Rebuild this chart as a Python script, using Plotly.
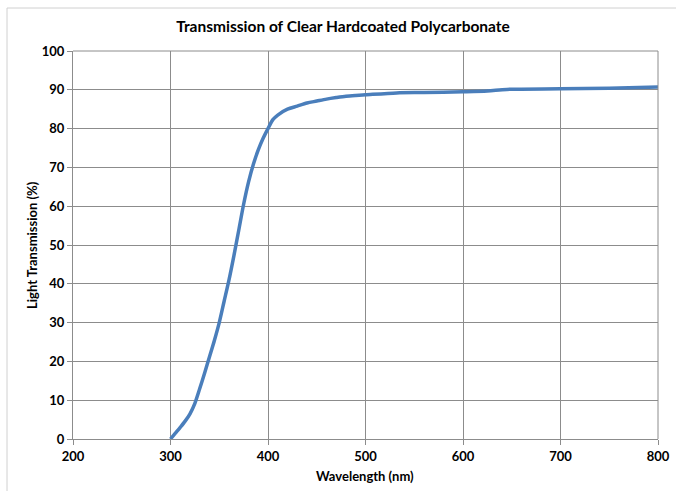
import plotly.graph_objects as go

wavelength = [300, 305, 310, 315, 320, 325, 330, 335, 340, 345, 350, 355, 360, 365, 370, 375, 380, 385, 390, 395, 400, 405, 410, 420, 430, 440, 450, 460, 470, 480, 490, 500, 532, 560, 600, 625, 645, 700, 750, 800]
transmission = [0, 1.5, 3.0, 4.6, 6.5, 9.2, 13.0, 17.0, 21.2, 25.4, 30.0, 35.5, 41.0, 47.2, 53.8, 60.5, 66.2, 70.8, 74.5, 77.5, 80.0, 82.3, 83.5, 85.0, 85.8, 86.6, 87.1, 87.6, 88.0, 88.35, 88.55, 88.7, 89.2, 89.3, 89.5, 89.7, 90.1, 90.25, 90.4, 90.7]

x_ticks = [200, 300, 400, 500, 600, 700, 800]
y_ticks = [0, 10, 20, 30, 40, 50, 60, 70, 80, 90, 100]

FONT = "Lato"
GRID = "#8c8c8c"

fig = go.Figure()
fig.add_trace(go.Scatter(
    x=wavelength, y=transmission, mode="lines",
    line=dict(color="#4a7ebb", width=3.5, shape="spline", smoothing=0.8),
    hoverinfo="skip", showlegend=False,
))

W, H = 676, 491
L, R, T, B = 73, 18, 51, 52
pw, ph = W - L - R, H - T - B

fig.update_layout(
    width=W, height=H,
    margin=dict(l=L, r=R, t=T, b=B, pad=0),
    paper_bgcolor="white", plot_bgcolor="white",
    font=dict(family=FONT, size=13, color="black"),
    title=dict(text="<b>Transmission of Clear Hardcoated Polycarbonate</b>",
               x=343 / W, xref="container", xanchor="center",
               y=1 - 27 / H, yref="container", yanchor="middle",
               font=dict(family=FONT, size=15.5, color="black")),
    xaxis=dict(range=[200, 800], tickvals=x_ticks, ticktext=[f"<b>{v}</b>" for v in x_ticks],
               showgrid=True, gridcolor=GRID, gridwidth=1, automargin=False,
               showline=True, linecolor=GRID, linewidth=1, mirror=False,
               ticks="outside", ticklen=5, tickcolor=GRID, zeroline=False,
               tickfont=dict(family=FONT, size=13, color="black")),
    yaxis=dict(range=[0, 100], tickvals=y_ticks, ticktext=[f"<b>{v}</b>" for v in y_ticks],
               showgrid=True, gridcolor=GRID, gridwidth=1, automargin=False,
               showline=True, linecolor=GRID, linewidth=1,
               ticks="outside", ticklen=5, tickcolor=GRID, zeroline=False,
               tickfont=dict(family=FONT, size=13, color="black")),
    annotations=[
        dict(text="<b>Wavelength (nm)</b>", xref="paper", yref="paper",
             x=(365 - L) / pw, y=(H - B - 476) / ph, xanchor="center", yanchor="middle",
             showarrow=False, font=dict(family=FONT, size=13, color="black")),
        dict(text="<b>Light Transmission (%)</b>", xref="paper", yref="paper",
             x=(32 - L) / pw, y=(H - B - 245) / ph, xanchor="center", yanchor="middle",
             textangle=-90, showarrow=False, font=dict(family=FONT, size=13, color="black")),
    ],
    shapes=[
        dict(type="rect", xref="paper", yref="paper",
             x0=(7 - L) / pw, x1=(690 - L) / pw,
             y0=(H - B - 500) / ph, y1=(H - B - 8) / ph,
             line=dict(color="#d0d0d0", width=1), fillcolor="rgba(0,0,0,0)", layer="below"),
        dict(type="line", xref="paper", yref="paper", x0=0, x1=1, y0=1, y1=1,
             line=dict(color=GRID, width=1)),
        dict(type="line", xref="paper", yref="paper", x0=1, x1=1, y0=0, y1=1,
             line=dict(color=GRID, width=1)),
    ],
)

fig.write_html("out.html")
